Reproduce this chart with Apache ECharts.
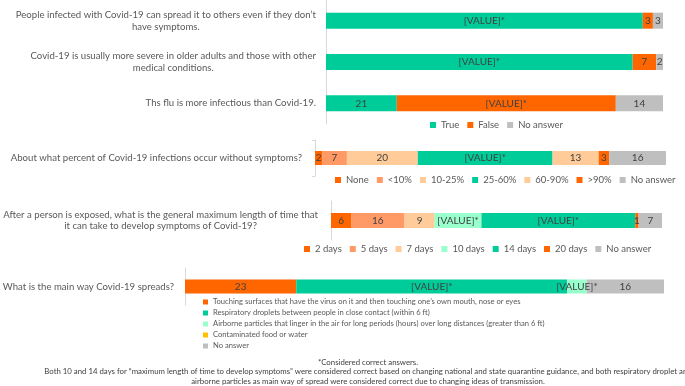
<!DOCTYPE html>
<html>
<head>
<meta charset="utf-8">
<script src="https://cdn.jsdelivr.net/npm/echarts@6/dist/echarts.min.js"></script>
<style>
html, body { margin: 0; padding: 0; background: #fff; }
#main { width: 685px; height: 386px; }
</style>
</head>
<body>
<div id="main"></div>
<script>
/* Covid-19 knowledge survey: stacked 100% bars, one block per question type */

const FONT = 'Lato';
const TEXT = '#595959';
const LABEL = '#404040';

// true / false statements
const tfQuestions = [
    'People infected with Covid-19 can spread it to others even if they don’t\nhave symptoms.',
    'Covid-19 is usually more severe in older adults and those with other\nmedical conditions.',
    'Ths flu is more infectious than Covid-19.'
];
const tfAnswers = ['True', 'False', 'No answer'];
const tfTrue = [94, 91, 21];
const tfFalse = [3, 7, 65];
const tfNoAnswer = [3, 2, 14];
const tfCorrect = [['True'], ['True'], ['False']];
const tfColors = ['#00CC99', '#FF6600', '#BFBFBF'];

// share of infections without symptoms
const asymQuestion = ['About what percent of Covid-19 infections occur without symptoms?'];
const asymAnswers = ['None', '<10%', '10-25%', '25-60%', '60-90%', '>90%', 'No answer'];
const asymValues = [2, 7, 20, 38, 13, 3, 16];
const asymCorrect = [['25-60%']];
const asymColors = ['#FF6600', '#FF9966', '#FFCC99', '#00CC99', '#FFCC99', '#FF6600', '#BFBFBF'];

// max incubation time
const incubQuestion = ['After a person is exposed, what is the general maximum length of time that\nit can take to develop symptoms of Covid-19?'];
const incubAnswers = ['2 days', '5 days', '7 days', '10 days', '14 days', '20 days', 'No answer'];
const incubValues = [6, 16, 9, 14, 46, 1, 7];
const incubCorrect = [['10 days', '14 days']];
const incubColors = ['#FF6600', '#FF9966', '#FFCC99', '#99FFCC', '#00CC99', '#FF6600', '#BFBFBF'];

// main way of spread
const spreadQuestion = ['What is the main way Covid-19 spreads?'];
const spreadAnswers = [
    'Touching surfaces that have the virus on it and then touching one’s own mouth, nose or eyes',
    'Respiratory droplets between people in close contact (within 6 ft)',
    'Airborne particles that linger in the air for long periods (hours) over long distances (greater than 6 ft)',
    'Contaminated food or water',
    'No answer'
];
const spreadValues = [23, 56, 4, 0, 16];
const spreadCorrect = [[spreadAnswers[1], spreadAnswers[2]]];
const spreadColors = ['#FF6600', '#00CC99', '#99FFCC', '#FFC000', '#BFBFBF'];

const notes = [
    '*Considered correct answers.',
    'Both 10 and 14 days for “maximum length of time to develop symptoms” were considered correct based on changing national and state quarantine guidance, and both respiratory droplet and',
    'airborne particles as main way of spread were considered correct due to changing ideas of transmission.'
];

let grids = [], xAxes = [], yAxes = [], series = [], legends = [];

function addPanel(p) {
    let i = grids.length;
    grids.push({ left: p.left, right: p.right, top: p.top, height: p.height, outerBoundsMode: 'none', containLabel: false });
    xAxes.push({ type: 'value', gridIndex: i, min: 0, max: 'dataMax', show: false });
    yAxes.push({
        type: 'category',
        gridIndex: i,
        data: p.questions,
        inverse: true,
        axisLine: { lineStyle: { color: '#D9D9D9' } },
        axisTick: { show: !!p.ticks, length: 3, lineStyle: { color: '#D9D9D9' } },
        axisLabel: {
            margin: p.margin,
            formatter: v => v.split('\n').map(s => '{q|' + s + '}').join('\n'),
            rich: { q: { align: 'center', fontSize: 9.6, lineHeight: 11.7, color: TEXT, fontFamily: FONT } }
        }
    });
    p.answers.forEach((name, k) => {
        series.push({
            type: 'bar',
            name: name,
            stack: 'q' + i,
            xAxisIndex: i,
            yAxisIndex: i,
            barWidth: p.barWidth,
            data: p.rows[k],
            itemStyle: { color: p.colors[k] },
            label: {
                show: true,
                color: LABEL,
                fontSize: 10,
                fontFamily: FONT,
                formatter: prm => {
                    if (!prm.value) return '';
                    return p.correct[prm.dataIndex].indexOf(name) >= 0 ? '[VALUE]*' : String(prm.value);
                }
            }
        });
    });
    legends.push(Object.assign({
        data: p.answers,
        icon: 'rect',
        itemWidth: 6,
        itemHeight: 6,
        padding: 0,
        selectedMode: false,
        textStyle: { color: TEXT, fontSize: 9.5, fontFamily: FONT }
    }, p.legend));
}

addPanel({
    questions: tfQuestions, answers: tfAnswers, rows: [tfTrue, tfFalse, tfNoAnswer],
    correct: tfCorrect, colors: tfColors,
    left: 326, right: 22, top: 0, height: 124, barWidth: 16, margin: 10,
    legend: { left: 430, top: 120, itemGap: 8 }
});
addPanel({
    questions: asymQuestion, answers: asymAnswers, rows: asymValues.map(v => [v]),
    correct: asymCorrect, colors: asymColors,
    left: 315, right: 19, top: 140, height: 36, barWidth: 14, margin: 13, ticks: true,
    legend: { left: 335, top: 175, itemGap: 8 }
});
addPanel({
    questions: incubQuestion, answers: incubAnswers, rows: incubValues.map(v => [v]),
    correct: incubCorrect, colors: incubColors,
    left: 331, right: 23, top: 201, height: 39, barWidth: 15, margin: 13,
    legend: { left: 304, top: 244, itemGap: 8 }
});
addPanel({
    questions: spreadQuestion, answers: spreadAnswers, rows: spreadValues.map(v => [v]),
    correct: spreadCorrect, colors: spreadColors,
    left: 185, right: 21, top: 268, height: 37, barWidth: 14, margin: 11,
    legend: {
        left: 203, top: 298, orient: 'vertical', itemGap: 3, itemWidth: 5, itemHeight: 5,
        textStyle: { color: TEXT, fontSize: 7.6, fontFamily: FONT }
    }
});

let title = [
    { text: notes[0], left: 368, top: 358, textAlign: 'center', padding: 0,
      textStyle: { fontSize: 7.8, fontWeight: 'normal', color: LABEL, fontFamily: FONT } },
    { text: notes[1] + '\n' + notes[2], left: 368, top: 366, textAlign: 'center', padding: 0,
      textStyle: { fontSize: 7.8, lineHeight: 10, fontWeight: 'normal', color: LABEL, fontFamily: FONT } }
];

let option = {
    animation: false,
    backgroundColor: '#fff',
    textStyle: { fontFamily: FONT },
    title: title,
    grid: grids,
    xAxis: xAxes,
    yAxis: yAxes,
    legend: legends,
    series: series
};

let chart = echarts.init(document.getElementById('main'));
chart.setOption(option);
</script>
</body>
</html>
